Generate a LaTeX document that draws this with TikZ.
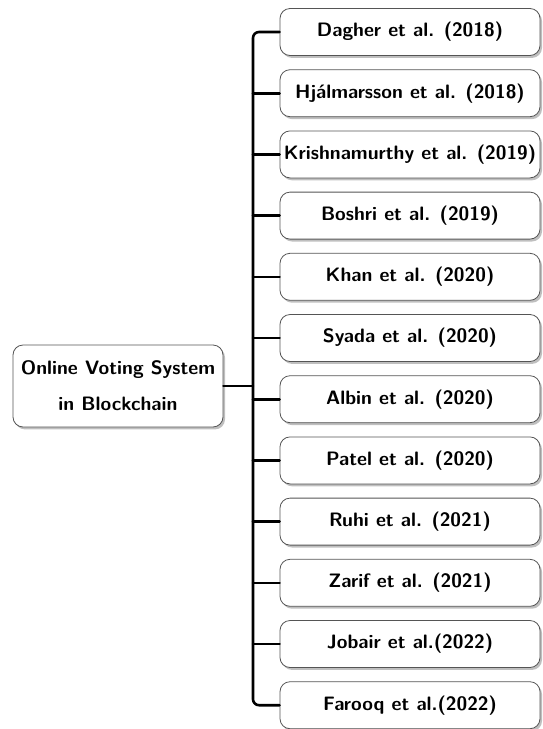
\documentclass[tikz,border=0pt]{standalone}
\usepackage{tikz}
\usetikzlibrary{shadows,calc}
\definecolor{boxline}{HTML}{555555}

\begin{document}
\begin{tikzpicture}[x=0.5pt, y=-0.5pt, line cap=round, line join=round,
  font=\sffamily\bfseries\fontsize{9.7}{12}\selectfont,
  paper/.style={draw=boxline, fill=white, rounded corners=5pt, thin,
    drop shadow={shadow xshift=1pt, shadow yshift=-1.2pt, opacity=0.5}},
  rootbox/.style={paper, minimum width=105pt, minimum height=41pt,
    align=center, inner sep=2pt},
  refbox/.style={paper, minimum width=130pt, minimum height=23.5pt,
    inner sep=1pt},
  branch/.style={line width=1.3pt, rounded corners=3pt}]
  \path[use as bounding box] (0,0) rectangle (542,729);
  % pixel grid: x = 0.5pt per px, rows 61.2 px apart
  \node[rootbox] (root) at (118,386)
    {Online Voting System\\[6pt]in Blockchain};
  \coordinate (trunk) at (253,386);
  \foreach \i/\lab in {1/Dagher et al. (2018),
      2/Hj\'almarsson et al. (2018),
      3/Krishnamurthy et al. (2019),
      4/Boshri et al. (2019),
      5/Khan et al. (2020),
      6/Syada et al. (2020),
      7/Albin et al. (2020),
      8/Patel et al. (2020),
      9/Ruhi et al. (2021),
      10/Zarif et al. (2021),
      11/Jobair et al.(2022),
      12/Farooq et al.(2022)} {
    \node[refbox] (c\i) at (410,{32+61.2*(\i-1)}) {\lab};
  }
  \draw[branch] (c1.west) -- (c1.west -| trunk) -- (c12.west -| trunk)
    -- (c12.west);
  \foreach \i in {2,...,11} {
    \draw[branch] (c\i.west -| trunk) -- (c\i.west);
  }
  \draw[branch] (root.east) -- (trunk);
\end{tikzpicture}
\end{document}
